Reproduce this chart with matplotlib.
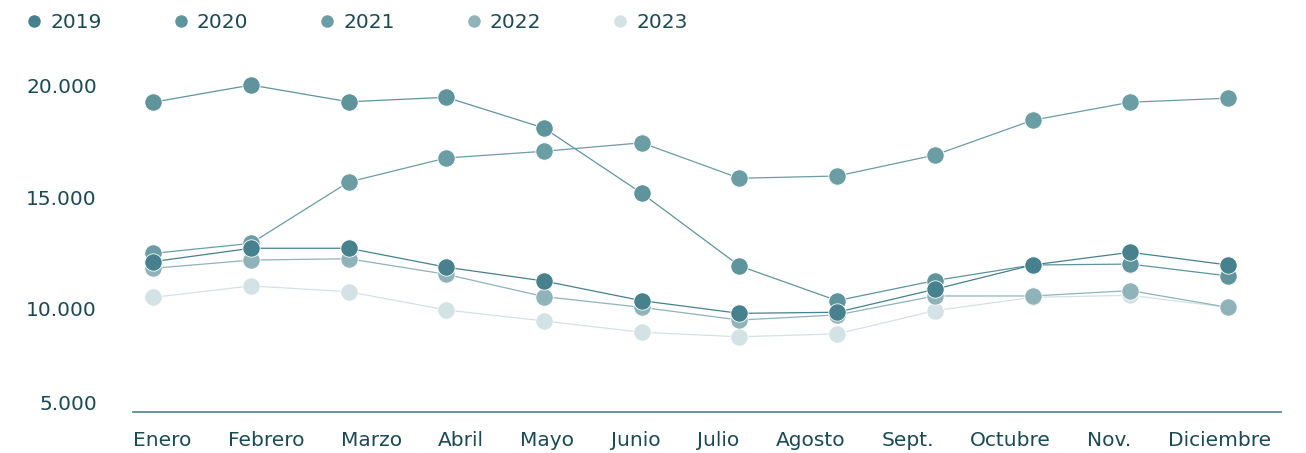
import matplotlib.pyplot as plt
from matplotlib.lines import Line2D

# --- Data ---
months = ["Enero", "Febrero", "Marzo", "Abril", "Mayo", "Junio",
          "Julio", "Agosto", "Sept.", "Octubre", "Nov.", "Diciembre"]
years = ["2019", "2020", "2021", "2022", "2023"]

v2019 = [12110, 12710, 12710, 11860, 11240, 10360, 9790, 9840, 10870, 11960, 12530, 11960]
v2020 = [19260, 20030, 19280, 19480, 18100, 15180, 11920, 10360, 11260, 11960, 12000, 11470]
v2021 = [12480, 12930, 15680, 16760, 17060, 17440, 15850, 15950, 16890, 18450, 19260, 19440]
v2022 = [11810, 12180, 12240, 11540, 10540, 10060, 9490, 9720, 10570, 10570, 10810, 10060]
v2023 = [10510, 11020, 10760, 9940, 9450, 8940, 8740, 8870, 9910, 10510, 10600, 10060]

y_ticks = [10000, 15000, 20000]
y_labels = ["10.000", "15.000", "20.000"]
y_min_label = "5.000"

# --- Style ---
COLORS = {"2019": "#47818d", "2020": "#5f949d", "2021": "#6a9da4",
          "2022": "#8fb3b8", "2023": "#d3e2e4"}
TEXT = "#1b4a55"
AXIS = "#5f8a93"
FS = 14.5

series = {"2019": v2019, "2020": v2020, "2021": v2021, "2022": v2022, "2023": v2023}

fig = plt.figure(figsize=(13.06, 4.53), dpi=100)
ax = fig.add_axes([0.1018, 0.0912, 0.981 - 0.1018, 0.860 - 0.0912])

x = list(range(len(months)))
# lightest year first so the darker ones sit on top
for yr in reversed(years):
    ax.plot(x, series[yr], color=COLORS[yr], lw=0.9, marker="o", ms=12.5,
            mfc=COLORS[yr], mec="white", mew=0.6, zorder=3)

ax.set_xlim(-0.208, 11.545)
ax.set_ylim(5380, 21000)

for s in ["top", "right", "left"]:
    ax.spines[s].set_visible(False)
ax.spines["bottom"].set_color(AXIS)
ax.spines["bottom"].set_linewidth(1.3)

ax.set_yticks(y_ticks)
ax.set_yticklabels(y_labels, fontsize=FS, color=TEXT)
ax.tick_params(axis="y", length=0, pad=26)
ax.set_xticks([])
ax.annotate(y_min_label, xy=(0, 0), xycoords="axes fraction",
            xytext=(-26, 5.5), textcoords="offset points",
            ha="right", va="center", fontsize=FS, color=TEXT)

# month labels spread edge to edge with equal gaps between them
fig.canvas.draw()
renderer = fig.canvas.get_renderer()
W = fig.get_figwidth() * fig.dpi
left_px = ax.get_window_extent(renderer).x0
right_px = ax.get_window_extent(renderer).x1 - 10
label_y = 1 - 441 / 453
texts = [fig.text(0, label_y, m, fontsize=FS, color=TEXT, ha="left", va="center")
         for m in months]
widths = [t.get_window_extent(renderer).width for t in texts]
gap = (right_px - left_px - sum(widths)) / (len(months) - 1)
pos = left_px
for t, w in zip(texts, widths):
    t.set_x(pos / W)
    pos += w + gap

# legend row
handles = [Line2D([], [], ls="none", marker="o", ms=9, mfc=COLORS[yr],
                  mec="none") for yr in years]
fig.legend(handles, years, loc="center left", bbox_to_anchor=(0.0215, 0.951),
           ncol=5, frameon=False, fontsize=FS, labelcolor=TEXT,
           handlelength=0.6, handletextpad=0.5, columnspacing=3.62,
           borderpad=0, borderaxespad=0)

fig.savefig("out.png", dpi=100, facecolor="white")
